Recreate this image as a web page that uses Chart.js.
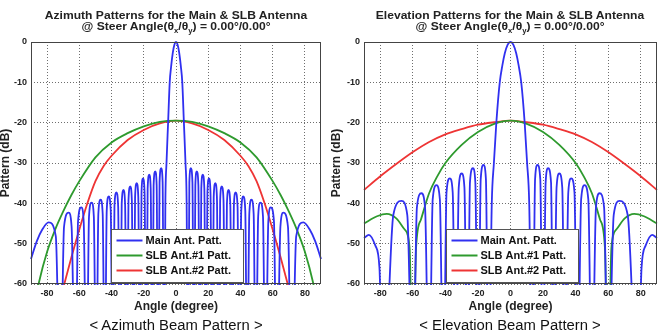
<!DOCTYPE html>
<html><head><meta charset="utf-8">
<script src="https://cdn.jsdelivr.net/npm/chart.js"></script>
<style>
html,body{margin:0;padding:0;background:#fff}
body{width:662px;height:334px;overflow:hidden;position:relative;font-family:"Liberation Sans",Arial,sans-serif;color:#222}
.panel{position:absolute;top:0;width:331px;height:334px}
.panel canvas{position:absolute;left:0;top:0}
.title{position:absolute;top:10px;width:320px;text-align:center;font-weight:bold;font-size:11px;line-height:10.5px;transform:scaleX(1.1);transform-origin:50% 0}
.title sub{font-size:7px;vertical-align:-3px;line-height:0}
.caption{position:absolute;top:316px;width:320px;text-align:center;font-size:14px;line-height:18px;transform:scaleX(1.06);transform-origin:50% 0;color:#111}
</style>
</head><body>
<div class="panel" style="left:0">
  <canvas id="az" width="331" height="334"></canvas>
  <div class="title" style="left:15.5px">Azimuth Patterns for the Main &amp; SLB Antenna<br>@ Steer Angle(θ<sub>x</sub>/θ<sub>y</sub>) = 0.00°/0.00°</div>
  <div class="caption" style="left:15.5px">&lt; Azimuth Beam Pattern &gt;</div>
</div>
<div class="panel" style="left:331px">
  <canvas id="el" width="331" height="334"></canvas>
  <div class="title" style="left:19.3px">Elevation Patterns for the Main &amp; SLB Antenna<br>@ Steer Angle(θ<sub>x</sub>/θ<sub>y</sub>) = 0.00°/0.00°</div>
  <div class="caption" style="left:19.3px">&lt; Elevation Beam Pattern &gt;</div>
</div>
<script>
const FONT = '"Liberation Sans", Arial, sans-serif';
const xTickValues = [-80,-60,-40,-20,0,20,40,60,80];
const yTickValues = [0,-10,-20,-30,-40,-50,-60];
const seriesNames = ['Main Ant. Patt.','SLB Ant.#1 Patt.','SLB Ant.#2 Patt.'];
const xTitle = 'Angle (degree)';
const yTitle = 'Pattern (dB)';

// ---- Azimuth: main antenna pattern (angle in degrees, pattern in dB) ----
const azMainAngles = [-90,-86.5,-83,-79.1,-74.6,-71.8,
 -69.5,-66.6,-64.8,-62.5, -60.8,-58.8,-57.3,-55.5, -54.0,-52.4,-51.0,-49.5,
 -48.2,-46.8,-45.5,-44.2, -43.0,-41.8,-40.5,-39.3, -38.2,-37.0,-35.9,-34.8,
 -33.7,-32.6,-31.6,-30.5, -29.5,-28.4,-27.4,-26.4, -25.4,-24.4,-23.4,-22.4,
 -21.4,-20.5,-19.5,-18.5, -17.6,-16.6,-15.7,-14.8, -13.9,-12.9,-12.0,-11.1,
 -10.2,-9.2,-8.3,-7.4,
 -6.6,-5.9,-4.9,-3.9,-3.0,-2.0,-1.0,0,1.0,2.0,3.0,3.9,4.9,5.9,6.6,
 7.4,8.3,9.2,10.2, 11.1,12.0,12.9,13.9, 14.8,15.7,16.6,17.6, 18.5,19.5,20.5,21.4,
 22.4,23.4,24.4,25.4, 26.4,27.4,28.4,29.5, 30.5,31.6,32.6,33.7, 34.8,35.9,37.0,38.2,
 39.3,40.5,41.8,43.0, 44.2,45.5,46.8,48.2, 49.5,51.0,52.4,54.0, 55.5,57.3,58.8,60.8,
 62.5,64.8,66.6,69.5, 71.8,74.6,79.1,83,86.5,90];
const azMainDb = [-53.8,-49.5,-46.5,-44.7,-48.2,-90,
 -45.8,-42.3,-45.8,-90, -44.5,-41.0,-44.5,-90, -43.3,-39.8,-43.3,-90,
 -42.6,-39.1,-42.6,-90, -41.8,-38.3,-41.8,-90, -40.8,-37.3,-40.8,-90,
 -40.2,-36.7,-40.2,-90, -39.3,-35.8,-39.3,-90, -38.5,-35.0,-38.5,-90,
 -37.3,-33.8,-37.3,-90, -36.4,-32.9,-36.4,-90, -35.6,-32.1,-35.6,-90,
 -34.8,-31.3,-34.8,-90,
 -40,-30,-20,-10,-6,-2.7,-0.7,0,-0.7,-2.7,-6,-10,-20,-30,-40,
 -90,-34.8,-31.3,-34.8, -90,-35.6,-32.1,-35.6, -90,-36.4,-32.9,-36.4, -90,-37.3,-33.8,-37.3,
 -90,-38.5,-35.0,-38.5, -90,-39.3,-35.8,-39.3, -90,-40.2,-36.7,-40.2, -90,-40.8,-37.3,-40.8,
 -90,-41.8,-38.3,-41.8, -90,-42.6,-39.1,-42.6, -90,-43.3,-39.8,-43.3, -90,-44.5,-41.0,-44.5,
 -90,-45.8,-42.3,-45.8, -90,-48.2,-44.7,-46.5,-49.5,-53.8];

// ---- Azimuth: SLB antennas ----
const azSlb1Angles = [-90,-85,-80,-75,-70,-65,-60,-50,-40,-30,-20,-10,0,10,20,30,40,50,60,65,70,75,80,85,90];
const azSlb1Db     = [-70,-59.5,-52,-46.5,-42,-38,-34.5,-28.6,-24.9,-22.6,-20.9,-19.8,-19.5,-19.8,-20.9,-22.6,-24.9,-28.6,-34.5,-38,-42,-46.5,-52,-59.5,-70];
const azSlb2Angles = [-75,-70,-65,-60,-55,-50,-45,-40,-30,-20,-10,0,10,20,30,40,45,50,55,60,65,70,75];
const azSlb2Db     = [-69,-61,-53.5,-46.5,-40,-34.5,-30.8,-28.2,-24.3,-21.8,-20.2,-19.5,-20.2,-21.8,-24.3,-28.2,-30.8,-34.5,-40,-46.5,-53.5,-61,-69];

// ---- Elevation: main antenna pattern ----
const elMainAngles = [-90,-87,-83,-80.5,-78.2,
 -72.0,-67.0,-63.4,-60.0, -57.5,-54.7,-52.5,-50.0, -47.8,-45.5,-43.4,-41.2,
 -39.3,-37.3,-35.5,-33.6, -31.8,-30.0,-28.3,-26.5, -24.9,-23.1,-21.6,-19.9,
 -18.3,-16.6,-15.1,-13.5,
 -11.5,-10.2,-8.7,-6.6,-5.0,-3.5,-1.8,0,1.8,3.5,5.0,6.6,8.7,10.2,11.5,
 13.5,15.1,16.6,18.3, 19.9,21.6,23.1,24.9, 26.5,28.3,30.0,31.8, 33.6,35.5,37.3,39.3,
 41.2,43.4,45.5,47.8, 50.0,52.5,54.7,57.5, 60.0,63.4,67.0,72.0, 78.2,80.5,83,87,90];
const elMainDb = [-48.6,-47.8,-50.5,-56,-90,
 -42.9,-39.4,-42.9,-90, -41.0,-37.5,-41.0,-90, -39.0,-35.5,-39.0,-90,
 -37.3,-33.8,-37.3,-90, -36.1,-32.6,-36.1,-90, -34.8,-31.3,-34.8,-90,
 -34.0,-30.5,-34.0,-90,
 -40,-30,-20,-10,-5.8,-2.8,-0.7,0,-0.7,-2.8,-5.8,-10,-20,-30,-40,
 -90,-34.0,-30.5,-34.0, -90,-34.8,-31.3,-34.8, -90,-36.1,-32.6,-36.1, -90,-37.3,-33.8,-37.3,
 -90,-39.0,-35.5,-39.0, -90,-41.0,-37.5,-41.0, -90,-42.9,-39.4,-42.9, -90,-56,-50.5,-47.8,-48.6];

// ---- Elevation: SLB antennas ----
const elSlb1Angles = [-90,-82,-76,-70,-65,-62,-60,-58,-55,-50,-45,-40,-30,-20,-10,0,10,20,30,40,45,50,55,58,60,62,65,70,76,82,90];
const elSlb1Db     = [-45,-43.2,-42.6,-43.8,-46.5,-51,-85,-51,-44,-37.5,-33.3,-30.0,-25.5,-22.3,-20.3,-19.5,-20.3,-22.3,-25.5,-30.0,-33.3,-37.5,-44,-51,-85,-51,-46.5,-43.8,-42.6,-43.2,-45];
const elSlb2Angles = [-90,-80,-70,-60,-50,-40,-30,-20,-10,0,10,20,30,40,50,60,70,80,90];
const elSlb2Db     = [-36.7,-33.3,-30.2,-27.3,-24.8,-22.9,-21.6,-20.5,-19.9,-19.5,-19.9,-20.5,-21.6,-22.9,-24.8,-27.3,-30.2,-33.3,-36.7];

const colors = ['#3030f0','#2e9a2e','#ee3434'];

function pts(a, v){ return a.map((x,i)=>({x:x, y:v[i]})); }

const frameLegend = {
  id:'frameLegend',
  afterDatasetsDraw(chart){
    const ctx = chart.ctx, ca = chart.chartArea;
    ctx.save();
    ctx.setLineDash([]);
    ctx.strokeStyle = '#444'; ctx.lineWidth = 1;
    ctx.strokeRect(Math.round(ca.left)+0.5, Math.round(ca.top)+0.5, Math.round(ca.right-ca.left)-1, Math.round(ca.bottom-ca.top)-1);
    const w = 132, h = 53;
    const cx = (ca.left+ca.right)/2 + 1;
    const x0 = Math.round(cx - w/2) + 0.5;
    const y1 = Math.round(ca.bottom) - 1.5;
    const y0 = y1 - h;
    ctx.fillStyle = '#fff'; ctx.fillRect(x0, y0, w, h);
    ctx.strokeStyle = '#555'; ctx.strokeRect(x0, y0, w, h);
    ctx.font = 'bold 11px ' + FONT;
    ctx.textBaseline = 'middle'; ctx.textAlign = 'left';
    chart.data.datasets.forEach((ds,i)=>{
      const yy = Math.round(y0 + 10 + i*15) + 0.5;
      ctx.strokeStyle = ds.borderColor; ctx.lineWidth = 2;
      ctx.beginPath(); ctx.moveTo(x0+5, yy); ctx.lineTo(x0+31, yy); ctx.stroke();
      ctx.fillStyle = '#111'; ctx.fillText(ds.label, x0+34, yy);
    });
    ctx.restore();
  }
};

function build(id, series, yW, padR){
  const datasets = series.map((s,i)=>({
    label: seriesNames[i], data: pts(s[0], s[1]), borderColor: colors[i],
    borderWidth: 1.8, pointRadius: 0, fill: false, cubicInterpolationMode: 'monotone', clip: 1
  }));
  const tickFont = {size:9, weight:'bold', family:FONT};
  const titleFont = {size:12, weight:'bold', family:FONT, lineHeight:1.2};
  return new Chart(document.getElementById(id), {
    type: 'line',
    data: {datasets},
    options: {
      responsive:false, animation:false, devicePixelRatio:1,
      layout:{padding:{left:0, right:padR, top:42, bottom:20}},
      plugins:{legend:{display:false}, tooltip:{enabled:false}, title:{display:false}},
      scales:{
        x:{type:'linear', min:-90, max:90,
          afterBuildTicks: ax => { ax.ticks = xTickValues.map(v=>({value:v})); },
          afterFit: s => { s.height = 30; },
          grid:{color:'#6e6e6e', drawTicks:false, lineWidth:1},
          border:{display:false, dash:[1,2]},
          ticks:{font:tickFont, color:'#222', padding:4, maxRotation:0, autoSkip:false},
          title:{display:true, text:xTitle, font:titleFont, color:'#222', padding:0}},
        y:{type:'linear', min:-60, max:0,
          afterBuildTicks: ax => { ax.ticks = yTickValues.map(v=>({value:v})); },
          afterFit: s => { s.width = yW; },
          grid:{color:'#6e6e6e', drawTicks:false, lineWidth:1},
          border:{display:false, dash:[1,2]},
          ticks:{font:tickFont, color:'#222', padding:4, autoSkip:false},
          title:{display:true, text:yTitle, font:{size:12, weight:'bold', family:FONT, lineHeight:1}, color:'#222', padding:0}}
      }
    },
    plugins:[frameLegend]
  });
}

build('az', [[azMainAngles, azMainDb],[azSlb1Angles, azSlb1Db],[azSlb2Angles, azSlb2Db]], 31, 10);
build('el', [[elMainAngles, elMainDb],[elSlb1Angles, elSlb1Db],[elSlb2Angles, elSlb2Db]], 33, 5);
</script>
</body></html>
